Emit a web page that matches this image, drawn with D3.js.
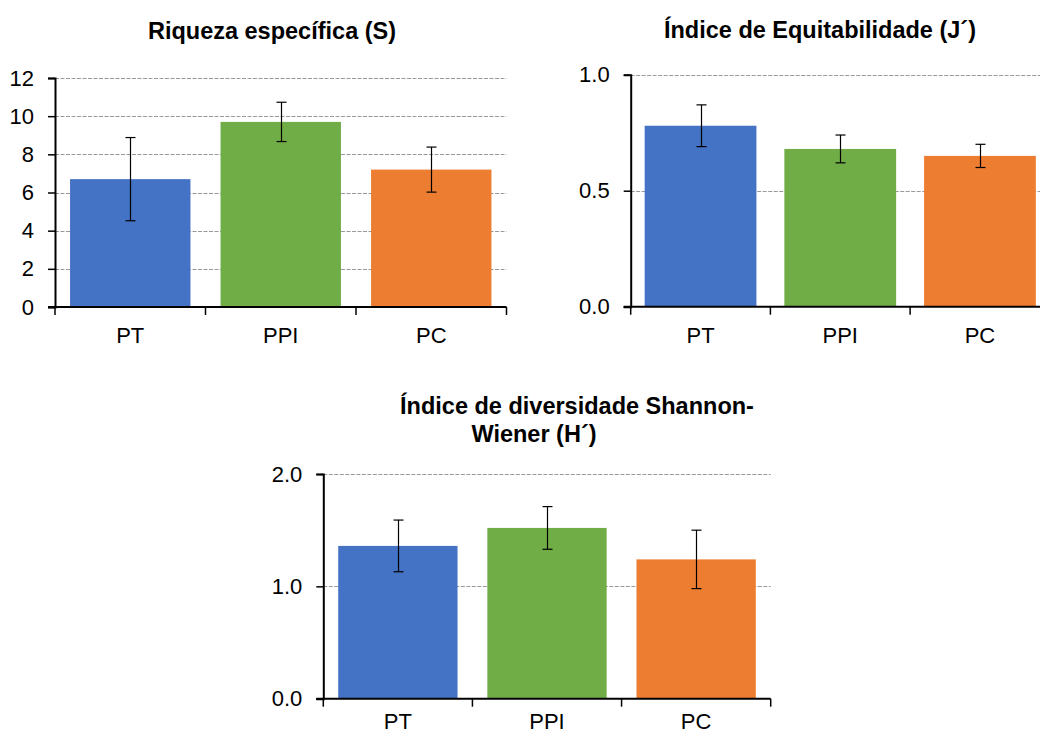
<!DOCTYPE html>
<html>
<head>
<meta charset="utf-8">
<script src="https://cdn.jsdelivr.net/npm/d3@7"></script>
<style>
  html, body { margin: 0; padding: 0; background: #fff; }
  svg { display: block; font-family: "Liberation Sans", Arial, sans-serif; }
</style>
</head>
<body>
<svg id="chart" width="1040" height="736"></svg>
<script>
// Categories shared by all three panels
const categories = ["PT", "PPI", "PC"];
const barColors = ["#4472C4", "#70AD47", "#ED7D31"];

// Riqueza específica (S): means and error (±)
const riquezaMean = [6.7, 9.7, 7.2];
const riquezaErr = [2.18, 1.03, 1.18];
const riquezaTicks = [0, 2, 4, 6, 8, 10, 12];

// Índice de Equitabilidade (J´)
const equitMean = [0.78, 0.68, 0.65];
const equitErr = [0.09, 0.06, 0.05];
const equitTicks = [0, 0.5, 1.0];

// Índice de diversidade Shannon-Wiener (H´)
const shannonMean = [1.36, 1.52, 1.24];
const shannonErr = [0.23, 0.19, 0.26];
const shannonTicks = [0, 1.0, 2.0];

const svg = d3.select("#chart");

function panel(cfg) {
  const g = svg.append("g");
  const x = d3.scaleBand().domain(categories)
    .range([cfg.left, cfg.right]).paddingInner(0.2).paddingOuter(0.1);
  const y = d3.scaleLinear().domain(cfg.domain).range([cfg.bottom, cfg.top]);
  const step = x.step();

  // dashed gridlines
  g.append("g").selectAll("line").data(cfg.ticks.filter(t => t !== 0)).join("line")
    .attr("x1", cfg.left).attr("x2", cfg.right)
    .attr("y1", d => Math.round(y(d)) + 0.5).attr("y2", d => Math.round(y(d)) + 0.5)
    .attr("stroke", "#999").attr("stroke-width", 1)
    .attr("stroke-dasharray", "4,1.5");

  // bars
  const data = categories.map((c, i) => ({ c, v: cfg.mean[i], e: cfg.err[i], col: barColors[i] }));
  g.append("g").selectAll("rect").data(data).join("rect")
    .attr("x", d => x(d.c)).attr("width", x.bandwidth())
    .attr("y", d => y(d.v)).attr("height", d => y(0) - y(d.v))
    .attr("fill", d => d.col);

  // error bars
  const eb = g.append("g").attr("stroke", "#000").attr("stroke-width", 1.2).attr("fill", "none");
  data.forEach(d => {
    const cx = Math.round(x(d.c) + x.bandwidth() / 2) + 0.5;
    eb.append("line").attr("x1", cx).attr("x2", cx).attr("y1", y(d.v + d.e)).attr("y2", y(d.v - d.e));
    eb.append("line").attr("x1", cx - 5).attr("x2", cx + 5).attr("y1", y(d.v + d.e)).attr("y2", y(d.v + d.e));
    eb.append("line").attr("x1", cx - 5).attr("x2", cx + 5).attr("y1", y(d.v - d.e)).attr("y2", y(d.v - d.e));
  });

  // y axis
  const ya = g.append("g").attr("transform", `translate(${cfg.left},0)`)
    .call(d3.axisLeft(y).tickValues(cfg.ticks).tickFormat(cfg.fmt).tickSizeOuter(0).tickSize(7).tickPadding(14));
  ya.select(".domain").attr("stroke-width", 2);
  ya.selectAll(".tick line").attr("stroke-width", 1.5);
  ya.selectAll(".tick text").attr("font-size", 22).attr("fill", "#000")
    .attr("font-family", "Liberation Sans, Arial, sans-serif");

  // x axis with tick marks at the category boundaries
  const xa = g.append("g").attr("transform", `translate(0,${cfg.bottom})`);
  xa.append("line").attr("x1", cfg.left - 7).attr("x2", cfg.right)
    .attr("stroke", "#000").attr("stroke-width", 2);
  const bounds = d3.range(categories.length + 1).map(i => cfg.left + i * step);
  xa.selectAll("line.b").data(bounds).join("line").attr("class", "b")
    .attr("x1", d => d).attr("x2", d => d).attr("y1", 0).attr("y2", 8)
    .attr("stroke", "#000").attr("stroke-width", 1.5);
  xa.selectAll("text").data(categories).join("text")
    .attr("x", d => x(d) + x.bandwidth() / 2).attr("y", cfg.labelY)
    .attr("text-anchor", "middle").attr("font-size", 22).attr("fill", "#000")
    .text(d => d);

  // title
  cfg.title.forEach(t => {
    svg.append("text").attr("x", t.x).attr("y", t.y).attr("text-anchor", "middle")
      .attr("font-size", 23.5).attr("font-weight", "bold").attr("fill", "#000").text(t.text);
  });
}

panel({
  left: 55, right: 506.5, top: 78, bottom: 307, labelY: 36,
  domain: [0, 12], ticks: riquezaTicks, fmt: d3.format("d"),
  mean: riquezaMean, err: riquezaErr,
  title: [{ text: "Riqueza específica (S)", x: 272, y: 39 }]
});

panel({
  left: 630.7, right: 1049.8, top: 74.7, bottom: 306.7, labelY: 36,
  domain: [0, 1], ticks: equitTicks, fmt: d3.format(".1f"),
  mean: equitMean, err: equitErr,
  title: [{ text: "Índice de Equitabilidade (J´)", x: 820, y: 38 }]
});

panel({
  left: 323.3, right: 770.7, top: 474, bottom: 698.7, labelY: 30,
  domain: [0, 2], ticks: shannonTicks, fmt: d3.format(".1f"),
  mean: shannonMean, err: shannonErr,
  title: [
    { text: "Índice de diversidade Shannon-", x: 577, y: 414 },
    { text: "Wiener (H´)", x: 534, y: 442 }
  ]
});
</script>
</body>
</html>
